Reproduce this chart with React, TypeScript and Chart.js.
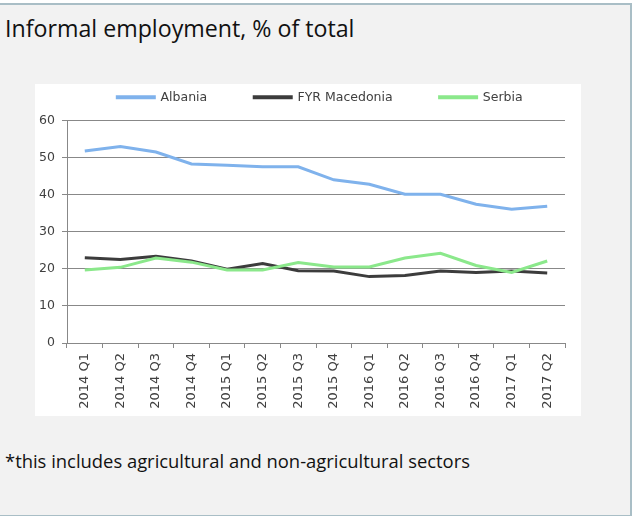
import React, { useEffect, useRef } from "react";
import { Chart, registerables } from "chart.js";

Chart.register(...registerables);

const categories = [
  "2014 Q1", "2014 Q2", "2014 Q3", "2014 Q4",
  "2015 Q1", "2015 Q2", "2015 Q3", "2015 Q4",
  "2016 Q1", "2016 Q2", "2016 Q3", "2016 Q4",
  "2017 Q1", "2017 Q2",
];
const albania = [51.8, 53.0, 51.5, 48.3, 47.9, 47.5, 47.5, 44.0, 42.8, 40.1, 40.1, 37.4, 36.1, 36.9];
const macedonia = [23.0, 22.5, 23.4, 22.1, 19.9, 21.4, 19.5, 19.4, 17.9, 18.2, 19.4, 19.0, 19.4, 18.9];
const serbia = [19.7, 20.4, 22.9, 21.8, 19.7, 19.7, 21.7, 20.5, 20.5, 22.9, 24.2, 20.9, 19.0, 22.1];
const yTicks = [0, 10, 20, 30, 40, 50, 60];

const GRID = "#888888";
const TEXT = "#404040";
const FONT_FAMILY = "'DejaVu Sans'";

const shiftLegend = {
  id: "shiftLegend",
  afterLayout(chart: any) {
    const l = chart.legend;
    if (l) {
      l.left += 20;
      l.right += 20;
    }
  },
};

export default function App() {
  const ref = useRef<HTMLCanvasElement>(null);

  useEffect(() => {
    if (!ref.current) return;
    const chart = new Chart(ref.current, {
      type: "line",
      data: {
        labels: categories,
        datasets: [
          { label: "Albania", data: albania, borderColor: "#7fb2ec", backgroundColor: "#7fb2ec", order: 3 },
          { label: "FYR Macedonia", data: macedonia, borderColor: "#3c3c3c", backgroundColor: "#3c3c3c", order: 2 },
          { label: "Serbia", data: serbia, borderColor: "#8be88b", backgroundColor: "#8be88b", order: 1 },
        ].map((d) => ({ ...d, borderWidth: 3, pointRadius: 0, tension: 0, fill: false })),
      },
      plugins: [shiftLegend],
      options: {
        responsive: false,
        animation: false,
        devicePixelRatio: 1,
        layout: { padding: { top: -40, left: 0, right: 16, bottom: 0 } },
        plugins: {
          tooltip: { enabled: false },
          title: { display: true, text: "", weight: 500, font: { size: 5 }, padding: { top: 0, bottom: 1 } } as any,
          legend: {
            position: "top",
            labels: {
              boxWidth: 37,
              boxHeight: 1,
              padding: 47,
              color: TEXT,
              font: { family: FONT_FAMILY, size: 12.5 },
              sort: (a: any, b: any) => a.datasetIndex - b.datasetIndex,
            },
          },
        },
        scales: {
          x: {
            offset: true,
            grid: { offset: true, drawOnChartArea: false, drawTicks: true, tickLength: 5, color: GRID },
            border: { color: GRID },
            ticks: { minRotation: 90, maxRotation: 90, autoSkip: false, color: TEXT, font: { family: FONT_FAMILY, size: 13 }, padding: 5 },
            afterFit: (s: any) => { s.height = 73; },
          },
          y: {
            min: 0,
            max: 60,
            afterBuildTicks: (s: any) => { s.ticks = yTicks.map((v) => ({ value: v })); },
            ticks: { color: TEXT, font: { family: FONT_FAMILY, size: 12.5 }, padding: 7 },
            grid: { color: GRID, tickLength: 5 },
            border: { color: GRID },
            afterFit: (s: any) => { s.width = 32; },
          },
        },
      },
    });
    return () => chart.destroy();
  }, []);

  return (
    <div style={{ position: "absolute", left: 0, top: 0, width: 634, height: 516, background: "#ffffff", overflow: "hidden" }}>
      <div
        style={{
          position: "absolute", left: 0, top: 3, width: 630, height: 510,
          background: "#f2f2f2",
          borderTop: "2px solid #a9bec6", borderRight: "2px solid #a9bec6", borderBottom: "2px solid #a9bec6",
        }}
      />
      <div style={{ position: "absolute", left: 5, top: 17, fontFamily: "'Open Sans'", fontSize: 23.2, lineHeight: "23px", color: "#111", whiteSpace: "nowrap" }}>
        Informal employment, % of total
      </div>
      <div style={{ position: "absolute", left: 35, top: 84, width: 546, height: 332, background: "#ffffff" }} />
      <canvas ref={ref} width={546} height={332} style={{ position: "absolute", left: 35, top: 84, width: 546, height: 332 }} />
      <div style={{ position: "absolute", left: 5, top: 452, fontFamily: "'Open Sans'", fontSize: 18.4, lineHeight: "18px", color: "#111", whiteSpace: "nowrap" }}>
        *this includes agricultural and non-agricultural sectors
      </div>
    </div>
  );
}
